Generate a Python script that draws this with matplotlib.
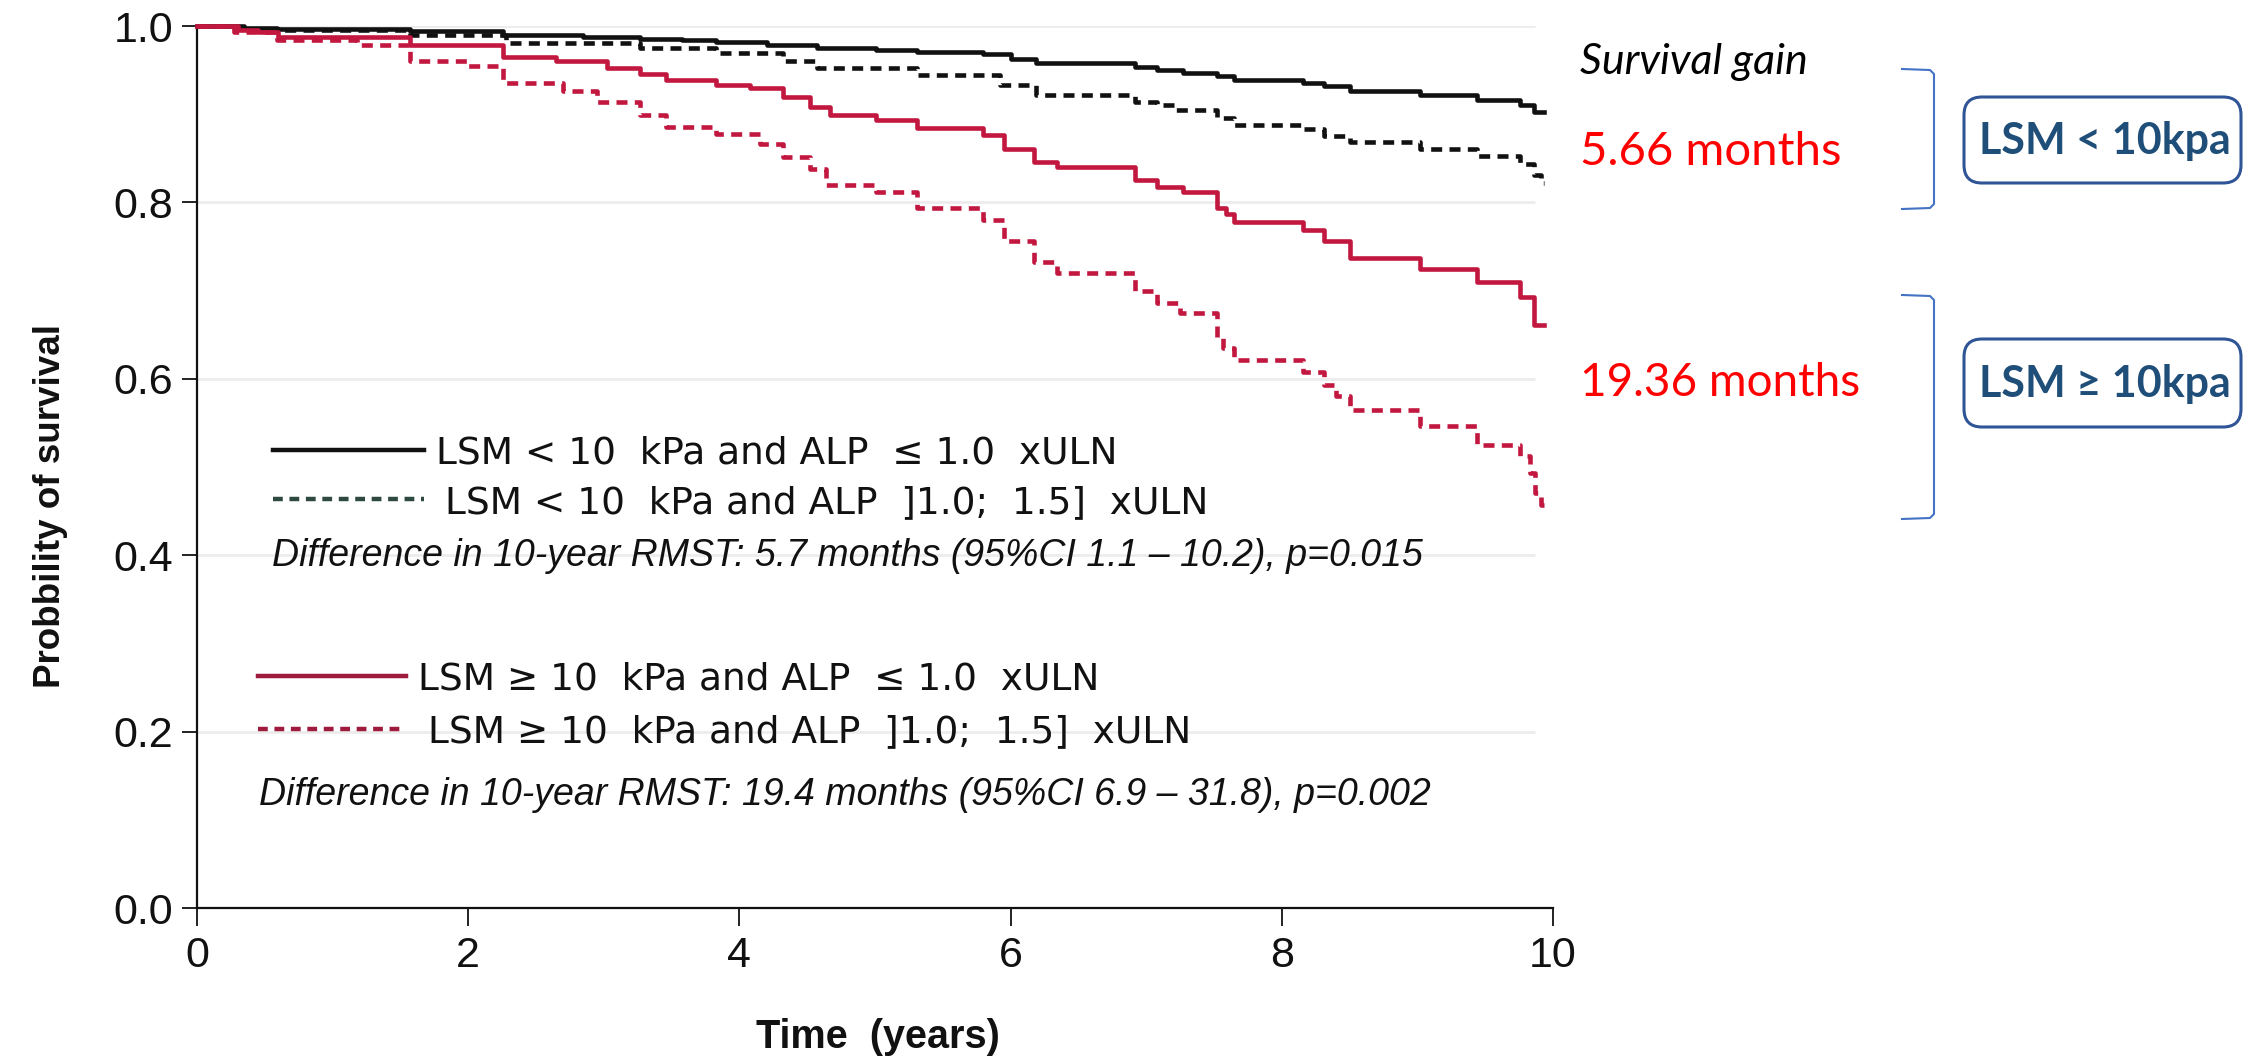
import matplotlib
matplotlib.use("Agg")
import matplotlib.pyplot as plt
from matplotlib.patches import FancyBboxPatch
from matplotlib.lines import Line2D

# ---- Kaplan-Meier step data (time in years, survival probability) ----
low_alp_normal_t = [0, 0.27, 0.59, 1.57, 2.26, 2.85, 3.27, 3.58, 3.83, 4.20, 4.57, 5.01,
                    5.31, 5.80, 6.00, 6.19, 6.92, 7.08, 7.27, 7.52, 7.65, 8.16, 8.31,
                    8.50, 9.02, 9.44, 9.76, 9.86]
low_alp_normal_s = [1.0, 0.998, 0.997, 0.994, 0.990, 0.987, 0.985, 0.984, 0.982, 0.978,
                    0.975, 0.973, 0.970, 0.968, 0.963, 0.958, 0.954, 0.950, 0.947, 0.943,
                    0.939, 0.935, 0.932, 0.926, 0.922, 0.916, 0.910, 0.902]

low_alp_high_t = [0, 0.35, 1.57, 2.28, 3.27, 3.83, 4.32, 4.57, 5.31, 5.92, 6.19, 6.92,
                  7.08, 7.22, 7.52, 7.65, 8.16, 8.31, 8.50, 9.02, 9.44, 9.76, 9.86, 9.91]
low_alp_high_s = [1.0, 0.996, 0.990, 0.981, 0.975, 0.969, 0.960, 0.952, 0.944, 0.933,
                  0.922, 0.914, 0.910, 0.905, 0.896, 0.888, 0.883, 0.875, 0.868, 0.860,
                  0.853, 0.843, 0.831, 0.822]

high_alp_normal_t = [0, 0.30, 0.45, 0.60, 1.57, 2.26, 2.65, 3.02, 3.27, 3.46, 3.83, 4.08,
                     4.32, 4.52, 4.67, 5.01, 5.31, 5.80, 5.95, 6.17, 6.34, 6.92, 7.08,
                     7.27, 7.52, 7.59, 7.65, 8.16, 8.31, 8.50, 9.02, 9.44, 9.76, 9.86]
high_alp_normal_s = [1.0, 0.996, 0.993, 0.988, 0.978, 0.965, 0.960, 0.952, 0.946, 0.939,
                     0.933, 0.930, 0.920, 0.908, 0.899, 0.893, 0.884, 0.876, 0.861, 0.846,
                     0.840, 0.825, 0.818, 0.812, 0.794, 0.787, 0.778, 0.769, 0.756, 0.737,
                     0.724, 0.710, 0.693, 0.661]

high_alp_high_t = [0, 0.27, 0.59, 1.18, 1.57, 1.99, 2.26, 2.70, 2.95, 3.27, 3.46, 3.83,
                   4.15, 4.32, 4.52, 4.64, 5.01, 5.31, 5.80, 5.95, 6.17, 6.34, 6.92, 7.08,
                   7.25, 7.52, 7.57, 7.65, 8.16, 8.31, 8.40, 8.50, 9.02, 9.44, 9.76, 9.83,
                   9.87, 9.91]
high_alp_high_s = [1.0, 0.993, 0.984, 0.979, 0.960, 0.955, 0.935, 0.926, 0.914, 0.899,
                   0.886, 0.878, 0.866, 0.852, 0.838, 0.820, 0.812, 0.794, 0.780, 0.756,
                   0.732, 0.720, 0.699, 0.686, 0.675, 0.646, 0.635, 0.621, 0.608, 0.593,
                   0.580, 0.565, 0.546, 0.525, 0.512, 0.493, 0.470, 0.457]

follow_up_end = 9.93

x_ticks = [0, 2, 4, 6, 8, 10]
x_tick_labels = ["0", "2", "4", "6", "8", "10"]
y_ticks = [0.0, 0.2, 0.4, 0.6, 0.8, 1.0]
y_tick_labels = ["0.0", "0.2", "0.4", "0.6", "0.8", "1.0"]

legend_labels = [
    "LSM < 10  kPa and ALP  \u2264 1.0  xULN",
    "LSM < 10  kPa and ALP  ]1.0;  1.5]  xULN",
    "LSM \u2265 10  kPa and ALP  \u2264 1.0  xULN",
    "LSM \u2265 10  kPa and ALP  ]1.0;  1.5]  xULN",
]
rmst_notes = [
    "Difference in 10-year RMST: 5.7 months (95%CI 1.1 \u2013 10.2), p=0.015",
    "Difference in 10-year RMST: 19.4 months (95%CI 6.9 \u2013 31.8), p=0.002",
]
gain_values = ["5.66 months", "19.36 months"]
group_names = ["LSM < 10kpa", "LSM \u2265 10kpa"]

BLACK = "#111111"
RED = "#C2173F"
DARK_RED = "#9E1B3E"
SLATE = "#2E4A40"
BLUE_LINE = "#4472C4"
BOX_EDGE = "#2F5597"
BOX_TEXT = "#1F4E79"

W, H = 2243, 1059
fig = plt.figure(figsize=(W / 100, H / 100), dpi=100)

# ---- survival axes ----
ax = fig.add_axes([197 / W, 1 - 908 / H, 1356 / W, 882 / H])
ax.set_xlim(0, 10)
ax.set_ylim(0, 1)

ax.hlines(y_ticks[1:], 0, 9.87, color="#ececec", lw=2.0, zorder=0)

series = [
    (low_alp_normal_t, low_alp_normal_s, BLACK, "-"),
    (low_alp_high_t, low_alp_high_s, BLACK, (0, (2.4, 1.6))),
    (high_alp_normal_t, high_alp_normal_s, RED, "-"),
    (high_alp_high_t, high_alp_high_s, RED, (0, (2.4, 1.6))),
]
for t, s, col, ls in series:
    ax.step(t + [follow_up_end], s + [s[-1]], where="post", color=col,
            lw=3.3, ls=ls, clip_on=False, zorder=3)

for side in ("top", "right"):
    ax.spines[side].set_visible(False)
for side in ("left", "bottom"):
    ax.spines[side].set_linewidth(1.6)
    ax.spines[side].set_color("#111111")

tick_font = {"family": ["Liberation Sans", "DejaVu Sans"], "size": 31}
ax.set_xticks(x_ticks)
ax.set_xticklabels(x_tick_labels, fontdict=tick_font)
ax.set_yticks(y_ticks)
ax.set_yticklabels(y_tick_labels, fontdict=tick_font)
ax.tick_params(axis="x", direction="out", length=13, width=1.3, pad=7, colors="#111111")
ax.tick_params(axis="y", direction="out", length=11, width=1.3, pad=6, colors="#111111")

# ---- overlay in pixel units for annotations ----
ov = fig.add_axes([0, 0, 1, 1], facecolor="none")
ov.set_xlim(0, W)
ov.set_ylim(H, 0)
ov.axis("off")

ov.text(878, 1048, "Time  (years)", ha="center", va="baseline", fontsize=28.5,
        fontweight="bold", family=["Liberation Sans", "DejaVu Sans"], color="#111111")
ov.text(51, 506, "Probbility of survival", ha="center", va="center", rotation=90,
        fontsize=26.5, fontweight="bold", family=["Liberation Sans", "DejaVu Sans"],
        color="#111111")

# legend samples and labels
legend_font = ["DejaVu Sans"]
ov.add_line(Line2D([273, 424], [450, 450], color=BLACK, lw=3.2))
ov.add_line(Line2D([273, 424], [499, 499], color=SLATE, lw=3.2, ls=(0, (2.2, 1.5))))
ov.add_line(Line2D([258, 406], [676, 676], color=DARK_RED, lw=3.2))
ov.add_line(Line2D([258, 406], [729, 729], color=DARK_RED, lw=3.2, ls=(0, (2.2, 1.5))))

ov.text(436, 463, legend_labels[0], fontsize=27, family=legend_font, va="baseline", color="#111111")
ov.text(445, 513, legend_labels[1], fontsize=27, family=legend_font, va="baseline", color="#111111")
ov.text(418, 690, legend_labels[2], fontsize=27, family=legend_font, va="baseline", color="#111111")
ov.text(428, 742, legend_labels[3], fontsize=27, family=legend_font, va="baseline", color="#111111")

note_font = ["Liberation Sans", "DejaVu Sans"]
ov.text(272, 566, rmst_notes[0], fontsize=27, style="italic", family=note_font,
        va="baseline", color="#111111")
ov.text(259, 805, rmst_notes[1], fontsize=27, style="italic", family=note_font,
        va="baseline", color="#111111")

# survival gain annotations
side_font = ["Lato", "DejaVu Sans"]
ov.text(1580, 62, "Survival gain", fontsize=31, style="italic", family=side_font,
        va="center", ha="left", color="#000000")
ov.text(1580, 152, gain_values[0], fontsize=34, family=side_font, va="center",
        ha="left", color="#FF0000")
ov.text(1580, 383, gain_values[1], fontsize=33, family=side_font, va="center",
        ha="left", color="#FF0000")

# brackets
for top, bot in ((69, 209), (295, 519)):
    ov.add_line(Line2D([1902, 1930, 1934, 1934, 1930, 1902],
                       [top, top + 1, top + 5, bot - 5, bot - 1, bot],
                       color=BLUE_LINE, lw=1.5))

# group boxes
for (y0, y1), name in zip(((97, 183), (339, 427)), group_names):
    ov.add_patch(FancyBboxPatch((1964, y0), 277, y1 - y0,
                                boxstyle="round,pad=0,rounding_size=18",
                                fc="white", ec=BOX_EDGE, lw=2.2, zorder=2))
    ov.text(2105, (y0 + y1) / 2 + 1, name, fontsize=31, fontweight="bold",
            family=side_font, va="center", ha="center", color=BOX_TEXT, zorder=3)

fig.savefig("out.png", dpi=100, facecolor="white")
